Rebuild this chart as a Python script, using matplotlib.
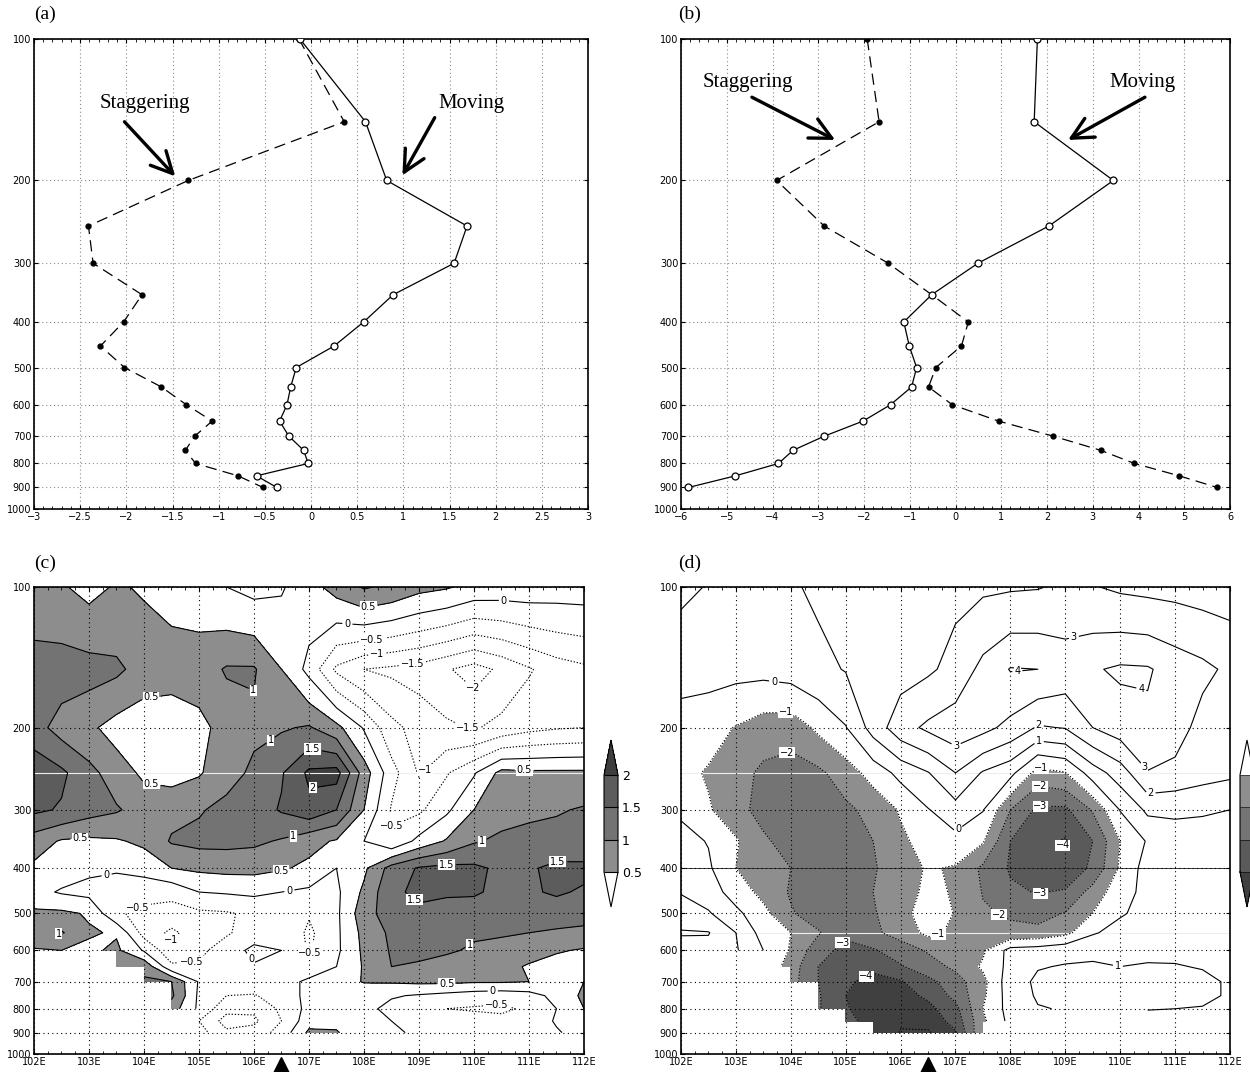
import numpy as np
import matplotlib
matplotlib.use("Agg")
import matplotlib.pyplot as plt
from matplotlib.colors import ListedColormap
from matplotlib.transforms import blended_transform_factory

nan = np.nan

# pressure levels (hPa) shared by all panels
levels = [100, 150, 200, 250, 300, 350, 400, 450, 500,
          550, 600, 650, 700, 750, 800, 850, 900]

# (a) profiles
moving_a = [-0.12, 0.59, 0.82, 1.69, 1.55, 0.89, 0.57, 0.25, -0.16,
            -0.22, -0.26, -0.34, -0.24, -0.08, -0.03, -0.59, -0.37]
stagger_a = [-0.13, 0.36, -1.33, -2.41, -2.36, -1.83, -2.03, -2.28, -2.02,
             -1.62, -1.35, -1.07, -1.26, -1.36, -1.25, -0.79, -0.52]

# (b) profiles
moving_b = [1.79, 1.72, 3.45, 2.04, 0.49, -0.52, -1.13, -1.01, -0.85,
            -0.96, -1.42, -2.02, -2.87, -3.55, -3.87, -4.81, -5.84]
stagger_b = [-1.93, -1.67, -3.91, -2.87, -1.47, -0.52, 0.28, 0.13, -0.43,
             -0.59, -0.07, 0.94, 2.14, 3.17, 3.91, 4.89, 5.72]

# longitude-pressure sections (nan = below terrain / missing)
lons = [102, 102.5, 103, 103.5, 104, 104.5, 105, 105.5, 106, 106.5, 107,
        107.5, 108, 108.5, 109, 109.5, 110, 110.5, 111, 111.5, 112]

field_c = [
    [0.7, 0.55, 0.35, 0.55, 0.45, 0.35, 0.25, 0.0, -0.15, -0.05, 0.3, 0.7, 1.05, 0.9, 0.65, 0.55, 0.35, 0.3, 0.3, 0.25, 0.25],
    [1.2, 1.25, 1.2, 1.1, 0.8, 0.7, 0.75, 1.05, 1.05, 0.5, -0.15, -1.1, -1.5, -1.6, -1.7, -1.95, -2.2, -1.9, -1.55, -1.25, -1.1],
    [1.2, 0.8, 0.6, 0.3, 0.15, 0.2, 0.35, 0.7, 0.9, 0.95, 1.05, 0.65, -0.05, -0.85, -1.2, -1.4, -1.55, -1.35, -1.15, -1.05, -1.0],
    [1.85, 1.6, 1.15, 0.75, 0.4, 0.3, 0.45, 0.8, 1.1, 1.45, 2.1, 2.2, 0.75, -0.3, -1.05, -0.55, -0.05, 0.65, 0.6, 0.6, 0.6],
    [1.6, 1.45, 1.2, 1.05, 0.8, 0.85, 0.95, 1.15, 1.25, 1.55, 1.85, 1.5, 0.5, -0.55, -0.6, -0.1, 0.5, 0.8, 0.9, 0.95, 1.05],
    [0.75, 0.45, 0.4, 0.45, 0.6, 1.05, 1.15, 1.15, 1.1, 0.95, 0.65, 0.45, 0.0, -0.45, 0.15, 0.55, 0.95, 1.1, 1.15, 1.2, 1.2],
    [0.4, 0.25, 0.1, 0.05, 0.2, 0.5, 0.6, 0.65, 0.65, 0.55, 0.4, 0.0, 0.4, 1.2, 1.55, 1.65, 1.6, 1.4, 1.45, 1.6, 1.6],
    [0.15, -0.05, -0.15, -0.2, -0.35, -0.35, 0.0, 0.05, 0.1, 0.0, -0.1, -0.1, 0.6, 1.4, 1.6, 1.55, 1.55, 1.4, 1.45, 1.55, 1.45],
    [0.6, 0.6, 0.45, -0.45, -0.6, -0.7, -0.6, -0.55, -0.4, -0.1, -0.45, -0.1, 0.8, 1.25, 1.4, 1.35, 1.3, 1.3, 1.3, 1.3, 1.2],
    [0.85, 1.05, 0.55, 0.45, -0.7, -1.1, -0.75, -0.55, -0.3, -0.05, -0.6, -0.1, 0.65, 1.1, 1.2, 1.15, 1.05, 1.05, 1.0, 0.92, 0.88],
    [0.45, 0.5, 0.4, 0.6, -0.05, -0.85, -0.6, -0.3, 0.15, 0.0, -0.55, -0.1, 0.6, 1.05, 1.1, 1.05, 0.95, 0.85, 0.7, 0.55, 0.45],
    [nan, nan, nan, 0.7, 0.9, -0.4, -0.45, -0.3, -0.05, -0.1, -0.3, 0.0, 0.55, 1.0, 0.95, 0.85, 0.75, 0.65, 0.45, 0.3, 0.3],
    [nan, nan, nan, nan, 1.05, 1.0, -0.05, -0.1, -0.1, -0.2, 0.1, 0.35, 0.52, 0.55, 0.6, 0.6, 0.55, 0.55, 0.5, 0.45, 0.5],
    [nan, nan, nan, nan, nan, 1.1, -0.1, -0.5, -0.55, -0.2, 0.1, 0.3, 0.3, 0.05, -0.05, -0.15, -0.25, -0.3, -0.2, 0.15, 0.6],
    [nan, nan, nan, nan, nan, 0.75, -0.1, -0.85, -0.9, -0.4, 0.15, 0.3, 0.15, -0.15, -0.35, -0.5, -0.55, -0.6, -0.4, 0.0, 0.5],
    [nan, nan, nan, nan, nan, nan, -0.5, -1.2, -1.1, -0.5, 0.3, 0.35, 0.1, 0.0, -0.15, -0.25, -0.3, -0.35, -0.3, 0.05, 0.25],
    [nan, nan, nan, nan, nan, nan, -0.3, -0.9, -0.8, -0.3, 0.6, 0.55, 0.1, 0.05, -0.05, -0.1, -0.15, -0.15, -0.1, -0.05, 0.2],
]

field_d = [
    [1.2, 0.95, 0.8, 0.8, 0.9, 1.15, 1.35, 1.5, 1.6, 1.7, 1.8, 1.85, 1.9, 1.95, 2.15, 2.05, 1.85, 1.75, 1.7, 1.6, 1.55],
    [0.35, 0.35, 0.3, 0.3, 0.45, 0.75, 1.05, 1.35, 1.6, 1.85, 2.3, 3.3, 4.05, 4.0, 3.6, 3.9, 4.15, 4.1, 3.6, 3.25, 2.8],
    [-0.4, -0.6, -1.05, -1.5, -1.6, -0.8, -0.05, 1.4, 2.6, 3.2, 3.6, 3.3, 2.7, 1.9, 2.05, 3.0, 3.5, 3.8, 3.5, 2.6, 2.4],
    [-0.7, -1.1, -1.6, -2.2, -2.4, -2.2, -1.5, -0.6, 0.3, 0.95, 2.0, 0.9, 0.3, -1.4, -1.05, 0.5, 1.5, 2.95, 2.7, 2.4, 2.2],
    [-0.15, -0.9, -1.6, -2.4, -2.6, -2.5, -2.2, -1.7, -0.9, -0.05, 0.6, 0.05, -2.0, -3.2, -3.2, -1.9, 0.05, 1.2, 1.2, 1.1, 1.0],
    [0.3, -0.05, -0.9, -1.8, -2.5, -2.5, -2.3, -2.0, -1.2, -0.6, -0.3, -0.9, -3.0, -3.7, -4.1, -3.0, -1.0, 0.1, 0.5, 0.6, 0.6],
    [0.7, 0.15, -1.0, -1.7, -2.0, -2.5, -2.6, -2.1, -1.45, -0.9, -1.1, -2.2, -3.1, -3.6, -3.7, -2.8, -0.85, 0.45, 0.5, 0.5, 0.5],
    [0.95, 0.5, -0.45, -1.3, -2.1, -2.6, -2.7, -2.0, -1.5, -0.75, -1.1, -2.05, -2.85, -3.05, -2.9, -1.6, -0.4, 0.3, 0.4, 0.4, 0.4],
    [1.4, 1.1, 0.25, -0.7, -1.9, -2.5, -2.7, -2.1, -1.35, -0.5, -1.05, -1.9, -2.1, -2.3, -1.95, -1.0, -0.1, 0.3, 0.35, 0.35, 0.35],
    [2.1, 2.05, 1.0, -0.4, -1.0, -1.9, -2.8, -2.2, -1.6, -0.75, -1.2, -1.6, -1.8, -1.75, -1.3, -0.1, 0.35, 0.4, 0.45, 0.45, 0.4],
    [1.5, 1.7, 1.1, 0.0, -1.1, -2.6, -3.3, -3.1, -2.5, -1.9, -1.3, -1.15, 0.35, 0.5, 0.75, 0.8, 0.85, 0.85, 0.8, 0.75, 0.6],
    [nan, nan, nan, -0.1, -1.5, -3.0, -3.6, -3.85, -3.1, -2.4, -1.8, -0.85, 0.3, 0.95, 1.05, 1.1, 1.0, 1.05, 1.05, 0.95, 0.8],
    [nan, nan, nan, nan, -1.6, -3.0, -3.9, -4.2, -4.1, -3.3, -2.4, -1.3, 0.6, 1.15, 1.3, 1.35, 1.35, 1.3, 1.3, 1.2, 0.9],
    [nan, nan, nan, nan, nan, -2.9, -4.0, -4.7, -4.4, -3.8, -2.7, -1.2, 0.5, 1.1, 1.3, 1.4, 1.4, 1.35, 1.3, 1.2, 0.9],
    [nan, nan, nan, nan, nan, -2.9, -3.9, -4.6, -4.7, -4.3, -3.3, -1.0, 0.4, 0.95, 1.05, 1.1, 1.1, 1.05, 1.0, 0.95, 0.8],
    [nan, nan, nan, nan, nan, nan, -3.6, -4.5, -4.9, -4.7, -3.6, -1.2, 0.3, 0.6, nan, nan, nan, 0.6, 0.6, 0.55, 0.5],
    [nan, nan, nan, nan, nan, nan, nan, -4.3, -5.05, -5.1, -4.1, -1.0, nan, nan, nan, nan, nan, nan, nan, nan, nan],
]

storm_lon = 106.5

shade_c = [0.5, 1, 1.5, 2]
shade_d = [-4, -3, -2, -1]
lines_c = [-2, -1.5, -1, -0.5, 0, 0.5, 1, 1.5, 2]
lines_d = [-5, -4, -3, -2, -1, 0, 1, 2, 3, 4]

# where each contour value gets its label (lon, hPa)
spots_c = {
    0.5: [(104.14, 176), (108.08, 110), (104.1, 279), (102.83, 335), (106.45, 380), (110.92, 238), (109.5, 700)],
    1: [(105.89, 177), (106.28, 211), (106.7, 335), (110.14, 348), (109.94, 588), (102.43, 564)],
    1.5: [(107.07, 221), (109.5, 389), (108.88, 474), (111.52, 386)],
    2: [(107.09, 279)],
    0: [(107.7, 119), (110.54, 108), (103.25, 371), (106.69, 483), (110.34, 721), (105.68, 660)],
    -0.5: [(108.14, 128), (108.5, 330), (103.8, 461), (104.87, 660), (107.1, 620), (110.4, 752)],
    -1: [(108.23, 136), (109.06, 243), (104.52, 605)],
    -1.5: [(108.88, 147), (109.92, 193)],
    -2: [(109.97, 165)],
}
spots_d = {
    4: [(108.13, 153), (110.35, 172)],
    3: [(109.13, 124), (107.1, 231), (110.35, 248)],
    2: [(108.52, 196), (110.55, 276)],
    1: [(108.52, 212), (109.95, 656)],
    0: [(103.68, 165), (107.1, 337)],
    -1: [(103.91, 188), (108.57, 243), (106.72, 570)],
    -2: [(103.91, 222), (108.55, 263), (107.76, 512)],
    -3: [(108.55, 288), (108.55, 457), (104.9, 570)],
    -4: [(108.77, 375), (105.32, 661)],
}

ptick = [100, 200, 300, 400, 500, 600, 700, 800, 900, 1000]
tick_font = dict(family="DejaVu Sans", size=7)
serif = "Liberation Serif"


def num(v):
    return ("%g" % v).replace("-", "\u2212")


def setup_p_axis(ax):
    ax.set_yscale("log")
    ax.set_ylim(1000, 100)
    ax.set_yticks(ptick)
    ax.set_yticklabels([str(p) for p in ptick], fontdict=tick_font)
    ax.yaxis.set_minor_locator(matplotlib.ticker.NullLocator())
    ax.tick_params(axis="both", which="major", direction="in", length=3, width=0.8, pad=2)
    ax.tick_params(axis="x", which="minor", direction="in", length=2, width=0.6, top=True)
    ax.tick_params(top=True, right=True)
    for s in ax.spines.values():
        s.set_linewidth(1.2)


def setup_profile(ax, xticks, minor):
    setup_p_axis(ax)
    ax.set_xlim(xticks[0], xticks[-1])
    ax.set_xticks(xticks)
    ax.set_xticklabels([num(v) for v in xticks], fontdict=tick_font)
    ax.xaxis.set_minor_locator(matplotlib.ticker.MultipleLocator(minor))
    ax.grid(True, which="major", color="#8a8a8a", lw=0.8, ls=(0, (1, 2.5)))


def setup_section(ax):
    setup_p_axis(ax)
    ax.set_xlim(lons[0], lons[-1])
    xt = list(range(102, 113))
    ax.set_xticks(xt)
    ax.set_xticklabels(["%dE" % v for v in xt], fontdict=tick_font)
    ax.xaxis.set_minor_locator(matplotlib.ticker.MultipleLocator(0.25))
    ax.set_axisbelow(False)
    ax.grid(True, which="major", color="k", lw=0.8, ls=(0, (1, 3)))
    ax.plot([storm_lon], [-0.026], marker="^", ms=13, color="k",
            transform=blended_transform_factory(ax.transData, ax.transAxes),
            clip_on=False, zorder=10)


dotted = (0, (1.2, 1.6))


def draw_lines(ax, X, Y, Z, values, spots):
    # one contour set per value so each label lands on its own line
    for v in values:
        cs = ax.contour(X, Y, Z, levels=[v], colors="k", linewidths=0.8,
                        linestyles=[dotted] if v < 0 else ["solid"],
                        corner_mask=False, zorder=1)
        if v in spots and len(cs.allsegs[0]) > 0:
            ax.clabel(cs, fmt=num, fontsize=7, inline=True, inline_spacing=2,
                      manual=spots[v])
            for t in cs.labelTexts:
                t.set_rotation(0)
                t.set_bbox(dict(facecolor="white", edgecolor="none", pad=0.4))


W, H = 1250, 1072
fig = plt.figure(figsize=(W / 100, H / 100), dpi=100)


def px_axes(x0, y0, x1, y1):
    return fig.add_axes([x0 / W, 1 - y1 / H, (x1 - x0) / W, (y1 - y0) / H])


ax_a = px_axes(34, 39, 588, 509)
ax_b = px_axes(681, 39, 1230, 509)
ax_c = px_axes(34, 587, 584, 1054)
ax_d = px_axes(681, 587, 1230, 1054)

# ---- profiles ----
dash = (0, (9, 5))
for ax, mov, stg, xt, mn in [(ax_a, moving_a, stagger_a, np.arange(-3, 3.01, 0.5), 0.1),
                              (ax_b, moving_b, stagger_b, np.arange(-6, 6.01, 1), 0.2)]:
    setup_profile(ax, list(xt), mn)
    ax.plot(mov, levels, color="k", lw=0.9, marker="o", ms=5, mfc="white",
            mec="k", mew=0.9, zorder=4)
    ax.plot(stg, levels, color="k", lw=0.9, ls=dash, marker="o", ms=3.5,
            mfc="k", mec="k", zorder=3)

arrow = dict(arrowstyle="->,head_length=0.7,head_width=0.35", lw=2.4,
             color="k", mutation_scale=22, shrinkA=0, shrinkB=0)
ax_a.text(-1.80, 137, "Staggering", ha="center", va="center", fontsize=15, family=serif)
ax_a.annotate("", xy=(-1.47, 196), xytext=(-2.02, 150), arrowprops=arrow)
ax_a.text(1.74, 137, "Moving", ha="center", va="center", fontsize=15, family=serif)
ax_a.annotate("", xy=(0.99, 195), xytext=(1.34, 147), arrowprops=arrow)

ax_b.text(-4.54, 123.5, "Staggering", ha="center", va="center", fontsize=15, family=serif)
ax_b.annotate("", xy=(-2.63, 164), xytext=(-4.45, 133), arrowprops=arrow)
ax_b.text(4.08, 123.5, "Moving", ha="center", va="center", fontsize=15, family=serif)
ax_b.annotate("", xy=(2.46, 164), xytext=(4.14, 133), arrowprops=arrow)

# ---- sections ----
X, Y = np.meshgrid(lons, levels)

# (c)
setup_section(ax_c)
Zc = np.ma.masked_invalid(np.array(field_c))
cmap_c = ListedColormap(["#8d8d8d", "#737373", "#5c5c5c"])
cmap_c.set_under("white")
cmap_c.set_over("#3e3e3e")
cf_c = ax_c.contourf(X, Y, Zc, levels=shade_c, cmap=cmap_c, extend="both",
                     corner_mask=False, zorder=0)
ax_c.axhline(250, color="#eeeeee", lw=0.8, zorder=0.5)
draw_lines(ax_c, X, Y, Zc, lines_c, spots_c)

cax_c = px_axes(604, 740, 618, 907)
cb_c = fig.colorbar(cf_c, cax=cax_c, extend="both", extendfrac=0.36,
                    ticks=shade_c, drawedges=True)
cb_c.ax.set_yticklabels([num(v) for v in shade_c], fontsize=9)
cb_c.ax.tick_params(length=0, pad=3)
cb_c.outline.set_linewidth(0.8)
cb_c.dividers.set_linewidth(0.8)

# (d)
setup_section(ax_d)
Zd = np.ma.masked_invalid(np.array(field_d))
cmap_d = ListedColormap(["#5a5a5a", "#747474", "#8e8e8e"])
cmap_d.set_under("#404040")
cmap_d.set_over("white")
cf_d = ax_d.contourf(X, Y, Zd, levels=shade_d, cmap=cmap_d, extend="both",
                     corner_mask=False, zorder=0)
for p in (250, 550):
    ax_d.axhline(p, color="#eeeeee", lw=0.8, zorder=0.5)
ax_d.axhline(400, color="#3a3a3a", lw=0.7, zorder=0.6)
draw_lines(ax_d, X, Y, Zd, lines_d, spots_d)

# colour key of (d) runs off the right edge
cax_d = px_axes(1240, 740, 1254, 907)
cb_d = fig.colorbar(cf_d, cax=cax_d, extend="both", extendfrac=0.36,
                    ticks=[], drawedges=True)
cb_d.outline.set_linewidth(0.8)

for lab, x, y in [("(a)", 45, 14), ("(b)", 690, 14), ("(c)", 45, 563), ("(d)", 690, 563)]:
    fig.text(x / W, 1 - y / H, lab, ha="center", va="center", fontsize=14, family=serif)

fig.savefig("out.png", dpi=100)
